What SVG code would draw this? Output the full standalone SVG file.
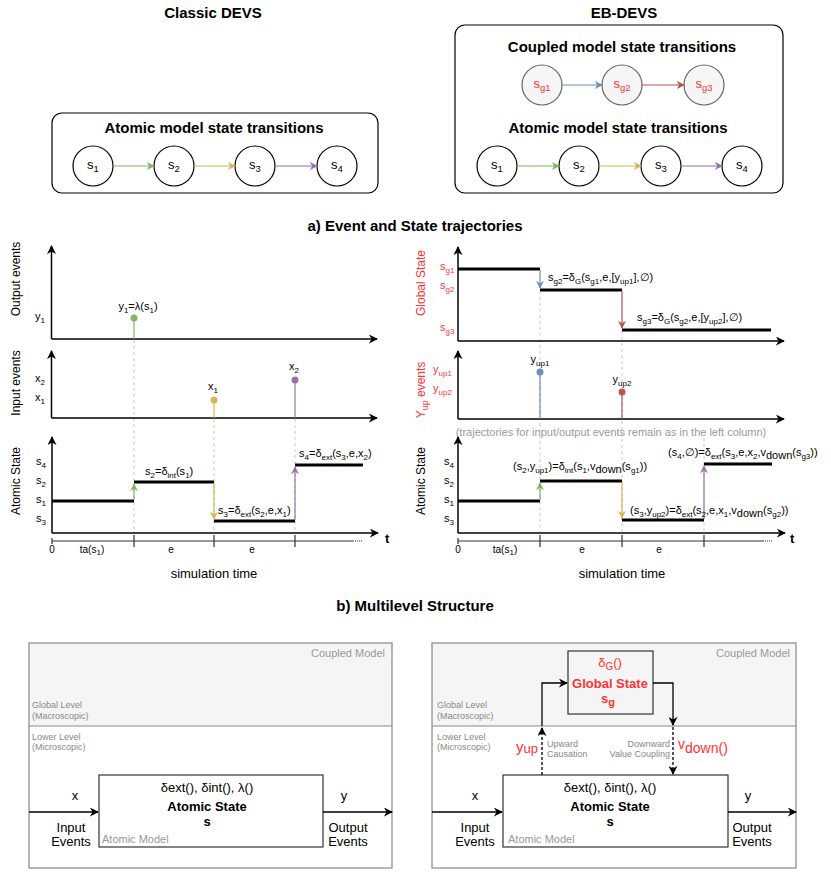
<svg xmlns="http://www.w3.org/2000/svg" width="831" height="873" viewBox="0 0 831 873">
<style>
text{font-family:"Liberation Sans",Arial,Helvetica,sans-serif;fill:#000}
.h{font-size:15px;font-weight:bold;text-anchor:middle}
.c{font-size:13px;text-anchor:middle}
.l{font-size:11px}
.s{font-size:8px}
.s2{font-size:9.5px}
.m{text-anchor:middle}
.e{text-anchor:end}
.red{fill:#ff3333}
.gr{fill:#999}
.gl{fill:#888;font-size:9px}
.io{font-size:13px;text-anchor:middle}
.ax{stroke:#000;stroke-width:1.5;fill:none}
.dash{stroke:#c8c8c8;stroke-width:1;stroke-dasharray:3 3;fill:none}
.st{stroke:#000;stroke-width:3;fill:none}
.node{fill:#fff;stroke:#000;stroke-width:1.2}
.gnode{fill:#f5f5f5;stroke:#666;stroke-width:1.2}
</style>
<defs>
<marker id="ak" viewBox="0 0 10 10" refX="9" refY="5" markerWidth="9" markerHeight="9" markerUnits="userSpaceOnUse" orient="auto"><path d="M0,0 L10,5 L0,10 L3,5z" fill="#000"/></marker>
<marker id="ag" viewBox="0 0 10 10" refX="9" refY="5" markerWidth="8" markerHeight="8" markerUnits="userSpaceOnUse" orient="auto"><path d="M0,0 L10,5 L0,10 L3,5z" fill="#82b366"/></marker>
<marker id="ay" viewBox="0 0 10 10" refX="9" refY="5" markerWidth="8" markerHeight="8" markerUnits="userSpaceOnUse" orient="auto"><path d="M0,0 L10,5 L0,10 L3,5z" fill="#d6b656"/></marker>
<marker id="ap" viewBox="0 0 10 10" refX="9" refY="5" markerWidth="8" markerHeight="8" markerUnits="userSpaceOnUse" orient="auto"><path d="M0,0 L10,5 L0,10 L3,5z" fill="#9673a6"/></marker>
<marker id="ab" viewBox="0 0 10 10" refX="9" refY="5" markerWidth="8" markerHeight="8" markerUnits="userSpaceOnUse" orient="auto"><path d="M0,0 L10,5 L0,10 L3,5z" fill="#6c8ebf"/></marker>
<marker id="ar" viewBox="0 0 10 10" refX="9" refY="5" markerWidth="8" markerHeight="8" markerUnits="userSpaceOnUse" orient="auto"><path d="M0,0 L10,5 L0,10 L3,5z" fill="#b85450"/></marker>
</defs>

<!-- ===== Top: state transition diagrams ===== -->
<text class="h" x="213" y="18">Classic DEVS</text>
<text class="h" x="624" y="18">EB-DEVS</text>

<g id="classic-box">
<rect x="52" y="113" width="326" height="80" rx="10" fill="#fff" stroke="#000" stroke-width="1.2"/>
<text class="h" x="214" y="133">Atomic model state transitions</text>
</g>
<g id="c-s1"><circle class="node" cx="93" cy="166" r="20"/><text class="c" x="93" y="169">s<tspan class="s2" dy="3">1</tspan></text></g>
<g id="c-s2"><circle class="node" cx="174" cy="166" r="20"/><text class="c" x="174" y="169">s<tspan class="s2" dy="3">2</tspan></text></g>
<g id="c-s3"><circle class="node" cx="255" cy="166" r="20"/><text class="c" x="255" y="169">s<tspan class="s2" dy="3">3</tspan></text></g>
<g id="c-s4"><circle class="node" cx="337" cy="166" r="20"/><text class="c" x="337" y="169">s<tspan class="s2" dy="3">4</tspan></text></g>

<g id="eb-box">
<rect x="455" y="25" width="328" height="168" rx="10" fill="#fff" stroke="#000" stroke-width="1.2"/>
<text class="h" x="622" y="52">Coupled model state transitions</text>
<text class="h" x="618" y="133">Atomic model state transitions</text>
</g>
<g id="e-sg1"><circle class="gnode" cx="542" cy="85" r="20"/><text class="c red" x="542" y="88">s<tspan class="s2" dy="3">g1</tspan></text></g>
<g id="e-sg2"><circle class="gnode" cx="622" cy="85" r="20"/><text class="c red" x="622" y="88">s<tspan class="s2" dy="3">g2</tspan></text></g>
<g id="e-sg3"><circle class="gnode" cx="704" cy="85" r="20"/><text class="c red" x="704" y="88">s<tspan class="s2" dy="3">g3</tspan></text></g>
<g id="e-s1"><circle class="node" cx="497" cy="166" r="20"/><text class="c" x="497" y="169">s<tspan class="s2" dy="3">1</tspan></text></g>
<g id="e-s2"><circle class="node" cx="579" cy="166" r="20"/><text class="c" x="579" y="169">s<tspan class="s2" dy="3">2</tspan></text></g>
<g id="e-s3"><circle class="node" cx="661" cy="166" r="20"/><text class="c" x="661" y="169">s<tspan class="s2" dy="3">3</tspan></text></g>
<g id="e-s4"><circle class="node" cx="742" cy="166" r="20"/><text class="c" x="742" y="169">s<tspan class="s2" dy="3">4</tspan></text></g>

<g id="connectors-top" fill="none" stroke-width="1.2">
<line x1="113" y1="166" x2="154" y2="166" stroke="#82b366" marker-end="url(#ag)"/>
<line x1="194" y1="166" x2="235" y2="166" stroke="#d6b656" marker-end="url(#ay)"/>
<line x1="275" y1="166" x2="317" y2="166" stroke="#9673a6" marker-end="url(#ap)"/>
<line x1="562" y1="85" x2="602" y2="85" stroke="#6c8ebf" marker-end="url(#ab)"/>
<line x1="642" y1="85" x2="684" y2="85" stroke="#b85450" marker-end="url(#ar)"/>
<line x1="517" y1="166" x2="559" y2="166" stroke="#82b366" marker-end="url(#ag)"/>
<line x1="599" y1="166" x2="641" y2="166" stroke="#d6b656" marker-end="url(#ay)"/>
<line x1="681" y1="166" x2="722" y2="166" stroke="#9673a6" marker-end="url(#ap)"/>
</g>

<!-- ===== a) trajectories ===== -->
<text class="h" x="415" y="231">a) Event and State trajectories</text>

<g id="left-plots">
<path class="dash" d="M134,340 V533 M214,419 V533 M295,419 V533"/>
<!-- output events -->
<path class="ax" d="M51.5,339 V246" marker-end="url(#ak)"/>
<path class="ax" d="M51.5,339 H377" marker-end="url(#ak)"/>
<text font-size="12" class="m" transform="translate(20,279) rotate(-90)">Output events</text>
<text class="l" x="35" y="320">y<tspan class="s" dy="3">1</tspan></text>
<line x1="134" y1="318" x2="134" y2="339" stroke="#82b366" stroke-width="1.2"/>
<circle cx="134" cy="318" r="3.5" fill="#82b366"/>
<text class="l m" x="138" y="310">y<tspan class="s" dy="3">1</tspan><tspan dy="-3">=λ(s</tspan><tspan class="s" dy="3">1</tspan><tspan dy="-3">)</tspan></text>
<!-- input events -->
<path class="ax" d="M51.5,418 V351" marker-end="url(#ak)"/>
<path class="ax" d="M51.5,418 H377" marker-end="url(#ak)"/>
<text font-size="12" class="m" transform="translate(20,383) rotate(-90)">Input events</text>
<text class="l" x="35" y="382">x<tspan class="s" dy="3">2</tspan></text>
<text class="l" x="35" y="401">x<tspan class="s" dy="3">1</tspan></text>
<line x1="214" y1="400" x2="214" y2="418" stroke="#d6b656" stroke-width="1.2"/>
<circle cx="214" cy="400" r="3.5" fill="#d6b656"/>
<text class="l m" x="213" y="390">x<tspan class="s" dy="3">1</tspan></text>
<line x1="295" y1="380" x2="295" y2="418" stroke="#9673a6" stroke-width="1.2"/>
<circle cx="295" cy="380" r="3.5" fill="#9673a6"/>
<text class="l m" x="294" y="370">x<tspan class="s" dy="3">2</tspan></text>
<!-- atomic state -->
<path class="ax" d="M52,533 V437" marker-end="url(#ak)"/>
<path class="ax" d="M52,533 H378" marker-end="url(#ak)"/>
<text font-size="12" class="m" transform="translate(20,481) rotate(-90)">Atomic State</text>
<text class="l" x="36" y="465">s<tspan class="s" dy="3">4</tspan></text>
<text class="l" x="36" y="484">s<tspan class="s" dy="3">2</tspan></text>
<text class="l" x="36" y="503">s<tspan class="s" dy="3">1</tspan></text>
<text class="l" x="36" y="522">s<tspan class="s" dy="3">3</tspan></text>
<path class="st" d="M52,501 H134 M134,482 H214 M214,521 H295 M295,465 H363"/>
<line x1="134" y1="500" x2="134" y2="484" stroke="#82b366" stroke-width="1.2" marker-end="url(#ag)"/>
<line x1="214" y1="483" x2="214" y2="519" stroke="#d6b656" stroke-width="1.2" marker-end="url(#ay)"/>
<line x1="295" y1="520" x2="295" y2="467" stroke="#9673a6" stroke-width="1.2" marker-end="url(#ap)"/>
<text class="l" x="145" y="475">s<tspan class="s" dy="3">2</tspan><tspan dy="-3">=δ</tspan><tspan class="s" dy="3">int</tspan><tspan dy="-3">(s</tspan><tspan class="s" dy="3">1</tspan><tspan dy="-3">)</tspan></text>
<text class="l" x="218" y="514">s<tspan class="s" dy="3">3</tspan><tspan dy="-3">=δ</tspan><tspan class="s" dy="3">ext</tspan><tspan dy="-3">(s</tspan><tspan class="s" dy="3">2</tspan><tspan dy="-3">,e,x</tspan><tspan class="s" dy="3">1</tspan><tspan dy="-3">)</tspan></text>
<text class="l" x="299" y="457">s<tspan class="s" dy="3">4</tspan><tspan dy="-3">=δ</tspan><tspan class="s" dy="3">ext</tspan><tspan dy="-3">(s</tspan><tspan class="s" dy="3">3</tspan><tspan dy="-3">,e,x</tspan><tspan class="s" dy="3">2</tspan><tspan dy="-3">)</tspan></text>
<!-- time axis -->
<path d="M52,541 H353" stroke="#333" stroke-width="1.2"/>
<path d="M353,541 H363" stroke="#333" stroke-width="1.2" stroke-dasharray="1 1"/>
<path d="M52,538 V544 M134,535 V547 M214,535 V547 M295,535 V547" stroke="#333" stroke-width="1.2"/>
<text font-size="10" class="m" x="52" y="553">0</text>
<text font-size="10" class="m" x="92" y="553">ta(s<tspan font-size="8" dy="2">1</tspan><tspan dy="-2">)</tspan></text>
<text font-size="10" class="m" x="171" y="553">e</text>
<text font-size="10" class="m" x="252" y="553">e</text>
<text font-size="13" font-weight="bold" x="385" y="543">t</text>
<text font-size="13" class="m" x="214" y="578">simulation time</text>
</g>

<g id="right-plots">
<path class="dash" d="M540,291 V533 M622,331 V533 M704,438 V533"/>
<!-- global state -->
<path class="ax" d="M458,341 V247" marker-end="url(#ak)"/>
<path class="ax" d="M458,341 H784" marker-end="url(#ak)"/>
<text font-size="12" class="m red" transform="translate(425,283) rotate(-90)">Global State</text>
<text class="l red" x="440" y="270">s<tspan class="s" dy="3">g1</tspan></text>
<text class="l red" x="440" y="289">s<tspan class="s" dy="3">g2</tspan></text>
<text class="l red" x="440" y="331">s<tspan class="s" dy="3">g3</tspan></text>
<path class="st" d="M458,269 H540 M540,290 H622 M622,330 H771"/>
<line x1="540" y1="270" x2="540" y2="288" stroke="#6c8ebf" stroke-width="1.2" marker-end="url(#ab)"/>
<line x1="622" y1="291" x2="622" y2="328" stroke="#b85450" stroke-width="1.2" marker-end="url(#ar)"/>
<text class="l" x="548" y="281">s<tspan class="s" dy="3">g2</tspan><tspan dy="-3">=δ</tspan><tspan class="s" dy="3">G</tspan><tspan dy="-3">(s</tspan><tspan class="s" dy="3">g1</tspan><tspan dy="-3">,e,[y</tspan><tspan class="s" dy="3">up1</tspan><tspan dy="-3">],∅)</tspan></text>
<text class="l" x="637" y="321">s<tspan class="s" dy="3">g3</tspan><tspan dy="-3">=δ</tspan><tspan class="s" dy="3">G</tspan><tspan dy="-3">(s</tspan><tspan class="s" dy="3">g2</tspan><tspan dy="-3">,e,[y</tspan><tspan class="s" dy="3">up2</tspan><tspan dy="-3">],∅)</tspan></text>
<!-- yup events -->
<path class="ax" d="M458,419 V351" marker-end="url(#ak)"/>
<path class="ax" d="M458,419 H784" marker-end="url(#ak)"/>
<text font-size="12" class="m red" transform="translate(425,390) rotate(-90)">Y<tspan font-size="9" dy="3">up</tspan><tspan dy="-3"> events</tspan></text>
<text class="l red" x="433" y="373">y<tspan class="s" dy="3">up1</tspan></text>
<text class="l red" x="433" y="392">y<tspan class="s" dy="3">up2</tspan></text>
<line x1="540" y1="372" x2="540" y2="419" stroke="#6c8ebf" stroke-width="1.2"/>
<circle cx="540" cy="372" r="3.5" fill="#6c8ebf"/>
<text class="l m" x="540" y="363">y<tspan class="s" dy="3">up1</tspan></text>
<line x1="622" y1="392" x2="622" y2="419" stroke="#b85450" stroke-width="1.2"/>
<circle cx="622" cy="392" r="3.5" fill="#b85450"/>
<text class="l m" x="622" y="383">y<tspan class="s" dy="3">up2</tspan></text>
<text font-size="11" class="m gr" x="611" y="436">(trajectories for input/output events remain as in the left column)</text>
<!-- atomic state -->
<path class="ax" d="M458,533 V437" marker-end="url(#ak)"/>
<path class="ax" d="M458,533 H785" marker-end="url(#ak)"/>
<text font-size="12" class="m" transform="translate(425,481) rotate(-90)">Atomic State</text>
<text class="l" x="444" y="465">s<tspan class="s" dy="3">4</tspan></text>
<text class="l" x="444" y="484">s<tspan class="s" dy="3">2</tspan></text>
<text class="l" x="444" y="503">s<tspan class="s" dy="3">1</tspan></text>
<text class="l" x="444" y="522">s<tspan class="s" dy="3">3</tspan></text>
<path class="st" d="M458,501 H540 M540,481 H622 M622,520 H704 M704,464 H772"/>
<line x1="540" y1="500" x2="540" y2="483" stroke="#82b366" stroke-width="1.2" marker-end="url(#ag)"/>
<line x1="622" y1="482" x2="622" y2="518" stroke="#d6b656" stroke-width="1.2" marker-end="url(#ay)"/>
<line x1="704" y1="519" x2="704" y2="466" stroke="#9673a6" stroke-width="1.2" marker-end="url(#ap)"/>
<text class="l" x="513" y="470">(s<tspan class="s" dy="3">2</tspan><tspan dy="-3">,y</tspan><tspan class="s" dy="3">up1</tspan><tspan dy="-3">)=δ</tspan><tspan class="s" dy="3">int</tspan><tspan dy="-3">(s</tspan><tspan class="s" dy="3">1</tspan><tspan dy="-3">,v</tspan><tspan dy="3">down</tspan><tspan dy="-3">(s</tspan><tspan class="s" dy="3">g1</tspan><tspan dy="-3">))</tspan></text>
<text class="l" x="630" y="514">(s<tspan class="s" dy="3">3</tspan><tspan dy="-3">,y</tspan><tspan class="s" dy="3">up2</tspan><tspan dy="-3">)=δ</tspan><tspan class="s" dy="3">ext</tspan><tspan dy="-3">(s</tspan><tspan class="s" dy="3">2</tspan><tspan dy="-3">,e,x</tspan><tspan class="s" dy="3">1</tspan><tspan dy="-3">,v</tspan><tspan dy="3">down</tspan><tspan dy="-3">(s</tspan><tspan class="s" dy="3">g2</tspan><tspan dy="-3">))</tspan></text>
<text class="l" x="668" y="456">(s<tspan class="s" dy="3">4</tspan><tspan dy="-3">,∅)=δ</tspan><tspan class="s" dy="3">ext</tspan><tspan dy="-3">(s</tspan><tspan class="s" dy="3">3</tspan><tspan dy="-3">,e,x</tspan><tspan class="s" dy="3">2</tspan><tspan dy="-3">,v</tspan><tspan dy="3">down</tspan><tspan dy="-3">(s</tspan><tspan class="s" dy="3">g3</tspan><tspan dy="-3">))</tspan></text>
<!-- time axis -->
<path d="M458,541 H763" stroke="#333" stroke-width="1.2"/>
<path d="M763,541 H773" stroke="#333" stroke-width="1.2" stroke-dasharray="1 1"/>
<path d="M458,538 V544 M540,535 V547 M622,535 V547 M704,535 V547" stroke="#333" stroke-width="1.2"/>
<text font-size="10" class="m" x="458" y="553">0</text>
<text font-size="10" class="m" x="505" y="553">ta(s<tspan font-size="8" dy="2">1</tspan><tspan dy="-2">)</tspan></text>
<text font-size="10" class="m" x="582" y="553">e</text>
<text font-size="10" class="m" x="659" y="553">e</text>
<text font-size="13" font-weight="bold" x="790" y="543">t</text>
<text font-size="13" class="m" x="622" y="578">simulation time</text>
</g>

<!-- ===== b) multilevel structure ===== -->
<text class="h" x="415" y="611">b) Multilevel Structure</text>

<g id="left-coupled">
<rect x="29" y="643" width="363" height="83" fill="#f5f5f5"/>
<rect x="29" y="643" width="363" height="225" fill="none" stroke="#888" stroke-width="1.2"/>
<line x1="29" y1="726" x2="392" y2="726" stroke="#888" stroke-width="1.2"/>
<text font-size="11" class="e gr" x="385" y="657">Coupled Model</text>
<text class="gl" x="32" y="708">Global Level</text>
<text class="gl" x="32" y="719">(Macroscopic)</text>
<text class="gl" x="32" y="740">Lower Level</text>
<text class="gl" x="32" y="750">(Microscopic)</text>
</g>
<g id="left-atomic">
<rect x="99" y="775" width="224" height="72" fill="#fff" stroke="#333" stroke-width="1.2"/>
<text class="c" x="207" y="792">δext(), δint(), λ()</text>
<text class="c" font-weight="bold" x="207" y="811">Atomic State</text>
<text class="c" font-weight="bold" x="207" y="826">s</text>
<text font-size="11" class="gr" x="102" y="843">Atomic Model</text>
</g>
<g id="left-io">
<text class="c" x="75" y="800">x</text>
<text class="io" x="71" y="832">Input</text>
<text class="io" x="71" y="846">Events</text>
<text class="c" x="344" y="800">y</text>
<text class="io" x="348" y="832">Output</text>
<text class="io" x="348" y="846">Events</text>
</g>

<g id="right-coupled">
<rect x="432" y="643" width="364" height="83" fill="#f5f5f5"/>
<rect x="432" y="643" width="364" height="225" fill="none" stroke="#888" stroke-width="1.2"/>
<line x1="432" y1="726" x2="796" y2="726" stroke="#888" stroke-width="1.2"/>
<text font-size="11" class="e gr" x="790" y="657">Coupled Model</text>
<text class="gl" x="437" y="708">Global Level</text>
<text class="gl" x="437" y="719">(Macroscopic)</text>
<text class="gl" x="437" y="740">Lower Level</text>
<text class="gl" x="437" y="750">(Microscopic)</text>
</g>
<g id="right-global">
<rect x="568" y="651" width="85" height="63" fill="#f5f5f5" stroke="#333" stroke-width="1.2"/>
<text class="c red" x="610" y="667">δ<tspan font-size="10" dy="3">G</tspan><tspan dy="-3">()</tspan></text>
<text class="c red" font-weight="bold" x="610" y="688">Global State</text>
<text class="c red" font-weight="bold" x="608" y="703">s<tspan font-size="11" dy="3">g</tspan></text>
</g>
<g id="right-atomic">
<rect x="503" y="775" width="225" height="72" fill="#fff" stroke="#333" stroke-width="1.2"/>
<text class="c" x="610" y="792">δext(), δint(), λ()</text>
<text class="c" font-weight="bold" x="610" y="811">Atomic State</text>
<text class="c" font-weight="bold" x="610" y="826">s</text>
<text font-size="11" class="gr" x="508" y="843">Atomic Model</text>
</g>
<g id="right-io">
<text class="c" x="475" y="800">x</text>
<text class="io" x="475" y="832">Input</text>
<text class="io" x="475" y="846">Events</text>
<text class="c" x="748" y="800">y</text>
<text class="io" x="752" y="832">Output</text>
<text class="io" x="752" y="846">Events</text>
<text font-size="15" class="red" x="516" y="752">y<tspan font-size="13" dy="1">up</tspan></text>
<text class="gl" x="547" y="747">Upward</text>
<text class="gl" x="547" y="757">Causation</text>
<text class="gl e" x="670" y="747">Downward</text>
<text class="gl e" x="670" y="757">Value Coupling</text>
<text font-size="14" class="red" x="678" y="749">v<tspan dy="4">down()</tspan></text>
</g>

<g id="connectors-bottom" fill="none" stroke="#000" stroke-width="1.3">
<line x1="29" y1="812" x2="98" y2="812" marker-end="url(#ak)"/>
<line x1="323" y1="812" x2="392" y2="812" marker-end="url(#ak)"/>
<line x1="432" y1="812" x2="502" y2="812" marker-end="url(#ak)"/>
<line x1="728" y1="812" x2="796" y2="812" marker-end="url(#ak)"/>
<line x1="542" y1="775" x2="542" y2="728" stroke-dasharray="3 2" marker-end="url(#ak)"/>
<path d="M542,726 V683 H567" marker-end="url(#ak)"/>
<path d="M653,683 H673 V725" marker-end="url(#ak)"/>
<line x1="673" y1="727" x2="673" y2="774" stroke-dasharray="3 2" marker-end="url(#ak)"/>
</g>
</svg>
